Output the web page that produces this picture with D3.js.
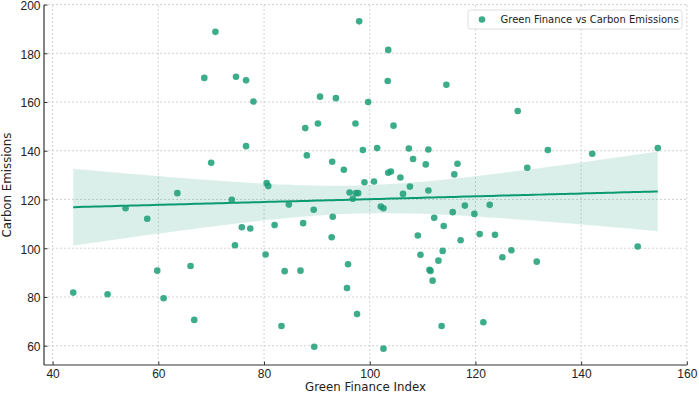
<!DOCTYPE html>
<html>
<head>
<meta charset="utf-8">
<script src="https://cdn.jsdelivr.net/npm/d3@7"></script>
<style>
  body { margin: 0; background: #fff; }
  svg { display: block; font-family: "DejaVu Sans", sans-serif; }
  .grid line { stroke: #c8c8c8; stroke-width: 0.8; stroke-dasharray: 2,2; }
  .axis path, .axis line { stroke: #333; }
  .axis text { fill: #222; font-size: 12px; }
</style>
</head>
<body>
<div id="chart"></div>
<script>
// Green Finance Index vs Carbon Emissions
var financeIndex = [
  70.8, 68.7, 74.7, 70.0, 63.6, 73.9, 53.8, 57.9, 74.5, 75.8,
  59.8, 66.1, 43.9, 50.4, 61.0, 66.8, 76.6, 78.0, 76.6, 87.8,
  90.2, 90.6, 93.6, 98.0, 103.5, 103.4, 99.7, 97.3, 104.5, 114.5,
  88.1, 92.9, 95.1, 98.7, 101.4, 107.4, 111.1, 108.2, 110.6, 116.6,
  116.0, 103.5, 104.0, 105.8, 99.0, 100.8, 107.6, 106.3, 111.1, 80.5,
  80.8, 96.2, 97.4, 97.8, 96.8, 84.7, 89.4, 93.0, 102.1, 102.6,
  112.2, 115.7, 114.0, 109.1, 117.2, 77.4, 82.0, 87.4, 92.8, 80.3,
  83.9, 86.9, 95.9, 95.7, 97.6, 83.3, 89.5, 102.6, 109.6, 113.8,
  113.0, 111.3, 111.5, 111.9, 113.6, 128.0, 133.7, 129.8, 142.1, 154.5,
  118.0, 122.7, 119.8, 120.8, 123.7, 126.8, 125.1, 131.6, 150.7, 121.5
];
var carbonEmissions = [
  188.8, 169.9, 170.4, 135.1, 122.6, 119.9, 116.4, 112.1, 101.2, 108.6,
  90.8, 92.7, 81.8, 81.1, 79.5, 70.6, 168.9, 160.2, 141.9, 149.3,
  151.2, 162.2, 161.6, 193.1, 181.4, 168.6, 160.0, 151.2, 150.3, 167.1,
  138.1, 135.5, 132.2, 140.3, 141.1, 140.9, 140.5, 136.6, 134.4, 134.7,
  130.3, 131.0, 131.5, 129.0, 127.1, 127.4, 125.3, 122.3, 123.7, 126.8,
  125.5, 122.9, 122.6, 122.6, 120.3, 117.9, 115.8, 112.9, 117.1, 116.4,
  112.5, 114.8, 109.1, 105.2, 103.3, 108.1, 109.5, 110.3, 104.5, 97.4,
  90.6, 90.8, 93.4, 83.7, 73.0, 68.1, 59.6, 58.8, 97.3, 98.9,
  94.9, 91.2, 90.7, 86.7, 68.1, 156.3, 140.3, 133.0, 138.8, 141.1,
  117.5, 117.8, 114.1, 105.8, 105.5, 99.2, 96.3, 94.5, 100.7, 69.6
];
var xTicks = [40, 60, 80, 100, 120, 140, 160];
var yTicks = [60, 80, 100, 120, 140, 160, 180, 200];
var seriesLabel = "Green Finance vs Carbon Emissions";
var xLabel = "Green Finance Index";
var yLabel = "Carbon Emissions";

var w = 699, h = 395;
var plotL = 44, plotR = 687, plotT = 5, plotB = 365;
var green = "#1b9e77";

var points = financeIndex.map((x, i) => ({x: x, y: carbonEmissions[i]}));

// matplotlib-like 5% margins
function padded(ext) {
  var d = (ext[1] - ext[0]) * 0.05;
  return [ext[0] - d, ext[1] + d];
}

var x = d3.scaleLinear().domain(padded(d3.extent(financeIndex))).range([plotL, plotR]);
var y = d3.scaleLinear().domain(padded(d3.extent(carbonEmissions))).range([plotB, plotT]);

var svg = d3.select("#chart").append("svg")
      .attr("width", w)
      .attr("height", h);

// grid
svg.append("g").attr("class", "grid")
  .selectAll("line").data(xTicks).enter().append("line")
  .attr("x1", (d) => x(d)).attr("x2", (d) => x(d))
  .attr("y1", plotT).attr("y2", plotB);
svg.append("g").attr("class", "grid")
  .selectAll("line").data(yTicks).enter().append("line")
  .attr("x1", plotL).attr("x2", plotR)
  .attr("y1", (d) => y(d)).attr("y2", (d) => y(d));

// linear fit with 95% confidence band
var n = points.length,
    mx = d3.mean(financeIndex),
    my = d3.mean(carbonEmissions),
    sxx = d3.sum(financeIndex, (v) => (v - mx) * (v - mx)),
    sxy = d3.sum(points, (p) => (p.x - mx) * (p.y - my)),
    slope = sxy / sxx,
    icept = my - slope * mx,
    sse = d3.sum(points, (p) => Math.pow(p.y - (icept + slope * p.x), 2)),
    s = Math.sqrt(sse / (n - 2)),
    tval = 1.984;

var xs = d3.ticks(d3.min(financeIndex), d3.max(financeIndex), 100);
xs.unshift(d3.min(financeIndex));
xs.push(d3.max(financeIndex));
var fit = xs.map((v) => {
  var yh = icept + slope * v,
      se = s * Math.sqrt(1 / n + (v - mx) * (v - mx) / sxx);
  return {x: v, y: yh, lo: yh - tval * se, hi: yh + tval * se};
});

svg.append("path")
  .datum(fit)
  .attr("fill", green)
  .attr("fill-opacity", 0.16)
  .attr("d", d3.area().x((d) => x(d.x)).y0((d) => y(d.lo)).y1((d) => y(d.hi)));

svg.append("path")
  .datum(fit)
  .attr("fill", "none")
  .attr("stroke", "#0c9a72")
  .attr("stroke-width", 2)
  .attr("d", d3.line().x((d) => x(d.x)).y((d) => y(d.y)));

// scatter
svg.append("g")
  .selectAll("circle").data(points).enter().append("circle")
  .attr("cx", (d) => x(d.x))
  .attr("cy", (d) => y(d.y))
  .attr("r", 3.3)
  .attr("fill", green)
  .attr("fill-opacity", 0.85);

// axes, ticks pointing inward
var xAxis = svg.append("g").attr("class", "axis")
  .attr("transform", "translate(0," + plotB + ")")
  .call(d3.axisBottom(x).tickValues(xTicks).tickSize(-3.5).tickPadding(4).tickSizeOuter(0));
xAxis.select(".domain").attr("d", "M" + plotL + ",0H" + plotR);

var yAxis = svg.append("g").attr("class", "axis")
  .attr("transform", "translate(" + plotL + ",0)")
  .call(d3.axisLeft(y).tickValues(yTicks).tickSize(-3.5).tickPadding(3.5).tickSizeOuter(0));
yAxis.select(".domain").attr("d", "M0," + plotT + "V" + plotB);
yAxis.selectAll(".tick text").attr("dy", "0.4em");
svg.selectAll(".axis .domain").attr("stroke-width", 1.2);

svg.append("text")
  .attr("x", (plotL + plotR) / 2)
  .attr("y", 391)
  .attr("text-anchor", "middle")
  .style("font-size", "11.8px")
  .attr("fill", "#222")
  .text(xLabel);

svg.append("text")
  .attr("transform", "translate(11," + ((plotT + plotB) / 2) + ") rotate(-90)")
  .attr("text-anchor", "middle")
  .style("font-size", "11.8px")
  .attr("fill", "#222")
  .text(yLabel);

// legend
var legend = svg.append("g").attr("transform", "translate(468,10)");
legend.append("rect")
  .attr("width", 214).attr("height", 19).attr("rx", 2.5)
  .attr("fill", "#fff").attr("fill-opacity", 0.8)
  .attr("stroke", "#d6d6d6").attr("stroke-width", 0.8);
legend.append("circle")
  .attr("cx", 14).attr("cy", 9.5).attr("r", 3.3)
  .attr("fill", green).attr("fill-opacity", 0.85);
legend.append("text")
  .attr("x", 32.5).attr("y", 13.3)
  .style("font-size", "10px")
  .attr("fill", "#222")
  .text(seriesLabel);
</script>
</body>
</html>
